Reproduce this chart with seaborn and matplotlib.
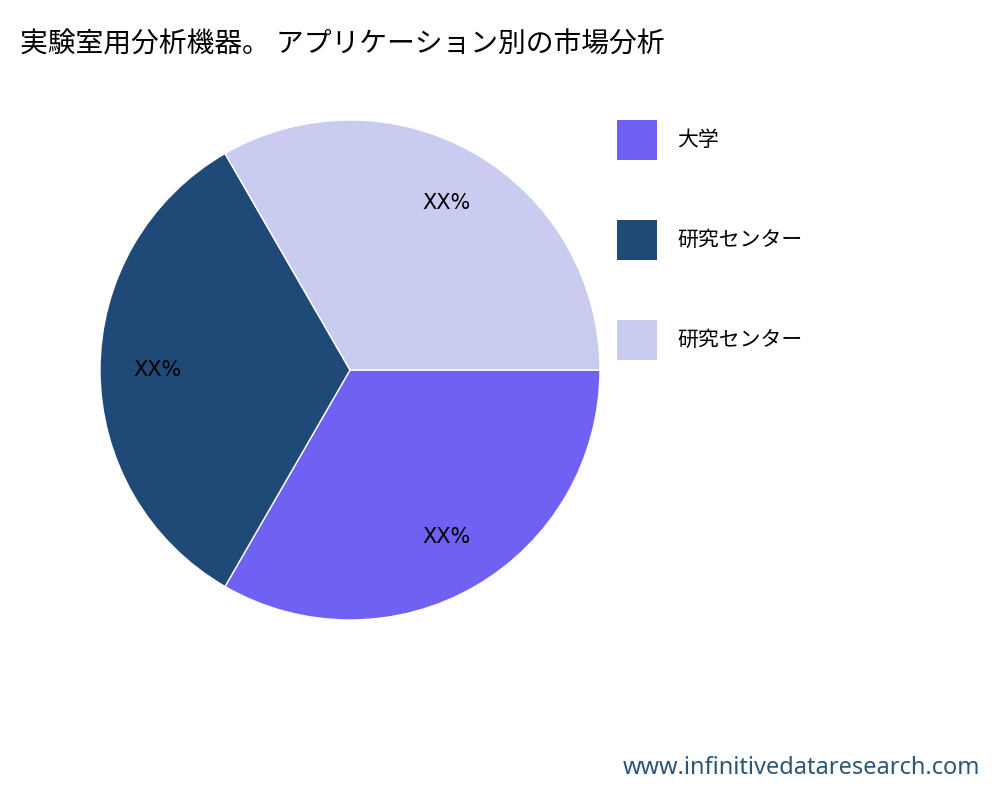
import matplotlib
matplotlib.use("Agg")
import matplotlib.pyplot as plt
from matplotlib.patches import Rectangle
import seaborn as sns

sns.set_theme(style="white")
plt.rcParams['font.family'] = ['Noto Sans CJK JP', 'DejaVu Sans']

title = "実験室用分析機器。 アプリケーション別の市場分析"
categories = ["大学", "研究センター", "研究センター"]
values = [1, 1, 1]
pct_labels = ["XX%", "XX%", "XX%"]
colors = ["#6F61F2", "#1F4A78", "#C9CBF1"]
watermark = "www.infinitivedataresearch.com"

fig = plt.figure(figsize=(10, 8), dpi=100)
ax = fig.add_axes([0.1, 0.225, 0.5, 0.625])
wedges, _ = ax.pie(values, colors=colors, startangle=0, counterclock=False,
                   radius=1.0)
ax.set_aspect('equal')
ax.set_xlim(-1, 1); ax.set_ylim(-1, 1)
import numpy as np
for w, lab in zip(wedges, pct_labels):
    ang = np.deg2rad((w.theta1 + w.theta2) / 2)
    ax.text(0.77*np.cos(ang), 0.77*np.sin(ang), lab, ha='center', va='center',
            fontsize=15, family=['Liberation Sans Narrow', 'DejaVu Sans'], color='black')

for i, (c, lab) in enumerate(zip(colors, categories)):
    y = 1 - (140 + 100*i)/800
    fig.patches.append(Rectangle((0.617, y - 0.025), 0.04, 0.05, transform=fig.transFigure,
                                 facecolor=c, edgecolor='none'))
    fig.text(0.677, y, lab, fontsize=15, va='center', ha='left', color='black')

fig.text(0.02, 1 - 45/800, title, fontsize=20, va='center', ha='left', color='black')
fig.text(0.98, 1 - 768/800, watermark, fontsize=17, va='center', ha='right',
         color='#2B5578', family=['Noto Sans', 'DejaVu Sans'])
fig.savefig("out.png", dpi=100)
